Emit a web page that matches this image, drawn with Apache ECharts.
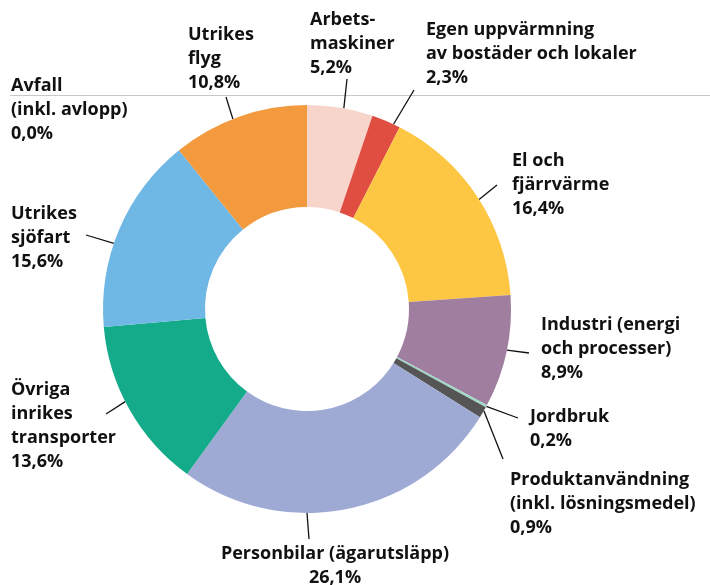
<!DOCTYPE html>
<html>
<head>
<meta charset="utf-8">
<script src="https://cdn.jsdelivr.net/npm/echarts@6/dist/echarts.min.js"></script>
<style>
  html, body { margin: 0; padding: 0; background: #fff; }
  #chart { width: 710px; height: 585px; }
</style>
</head>
<body>
<div id="chart"></div>
<script>
// sektorer medurs från kl 12
const categories = [
  'Arbets-\nmaskiner',
  'Egen uppvärmning\nav bostäder och lokaler',
  'El och\nfjärrvärme',
  'Industri (energi\noch processer)',
  'Jordbruk',
  'Produktanvändning\n(inkl. lösningsmedel)',
  'Personbilar (ägarutsläpp)',
  'Övriga\ninrikes\ntransporter',
  'Utrikes\nsjöfart',
  'Avfall\n(inkl. avlopp)',
  'Utrikes\nflyg'
]
const shares = [5.2, 2.3, 16.4, 8.9, 0.2, 0.9, 26.1, 13.6, 15.6, 0.0, 10.8]

const palette = ['#f7d5cb', '#e04e42', '#fdc643', '#a07ea0', '#9ed8c6', '#555555', '#9ea9d4', '#14ab8a', '#6fb7e5', '#ffffff', '#f39a3f']

// etikettplacering: textens vänsterkant/topp, linjens vinkel på ringen och linjens ände
const labelLayout = [
  { x: 310, y: 8, angle: 10.4, end: [347, 79] },
  { x: 426, y: 18, angle: 25.1, end: [414, 90] },
  { x: 512, y: 149, angle: 57.5, end: [497, 185] },
  { x: 541, y: 313, angle: 101.6, end: [529, 353] },
  { x: 530, y: 405, angle: 118.5, end: [518, 418] },
  { x: 510, y: 468, angle: 119.9, end: [503, 459] },
  { x: 335, y: 542, angle: 180, end: [309, 539], align: 'center' },
  { x: 11, y: 378, angle: 243, end: [106, 414] },
  { x: 11, y: 202, angle: 288.8, end: [86, 235] },
  { x: 11, y: 74, angle: null },
  { x: 188, y: 23, angle: 338.7, end: [226, 97] }
]

const cx = 307
const cy = 309
const rOuter = 204
const rInner = 102

const chart = echarts.init(document.getElementById('chart'))

const option = {
  animation: false,
  backgroundColor: '#fff',
  graphic: [
    {
      type: 'line',
      z: -10,
      silent: true,
      shape: { x1: 10, y1: 95.5, x2: 710, y2: 95.5 },
      style: { stroke: '#c8c8c8', lineWidth: 1 }
    }
  ],
  series: [
    {
      type: 'pie',
      center: [cx, cy],
      radius: [rInner, rOuter],
      startAngle: 90,
      clockwise: true,
      avoidLabelOverlap: false,
      minAngle: 0,
      itemStyle: { borderWidth: 0 },
      emphasis: { disabled: true },
      label: {
        show: true,
        position: 'outside',
        fontFamily: 'Open Sans',
        fontWeight: 'bold',
        fontSize: 18,
        lineHeight: 24,
        color: '#111',
        formatter: (p) => p.name + '\n' + p.value.toFixed(1).replace('.', ',') + '%'
      },
      labelLine: {
        show: true,
        lineStyle: { color: '#111', width: 1.3 }
      },
      labelLayout: (params) => {
        const l = labelLayout[params.dataIndex]
        const res = {
          x: l.x,
          y: l.y,
          align: l.align || 'left',
          verticalAlign: 'top'
        }
        if (l.angle !== null) {
          const a = l.angle * Math.PI / 180
          const start = [cx + rOuter * Math.sin(a), cy - rOuter * Math.cos(a)]
          res.labelLinePoints = [start, l.end, l.end]
        }
        return res
      },
      data: categories.map((name, i) => ({
        name: name,
        value: shares[i],
        itemStyle: { color: palette[i] },
        labelLine: { show: labelLayout[i].angle !== null }
      }))
    }
  ]
}

chart.setOption(option)
</script>
</body>
</html>
